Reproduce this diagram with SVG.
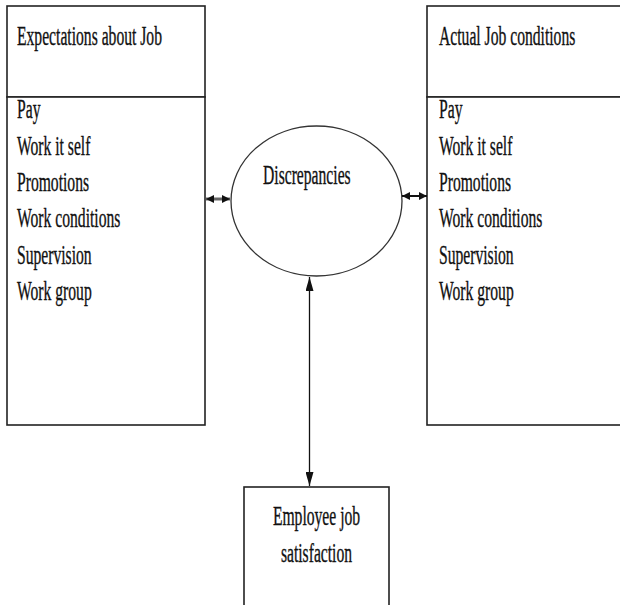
<svg xmlns="http://www.w3.org/2000/svg" width="620" height="605" viewBox="0 0 620 605">
<style>
.box{fill:#fff;stroke:#222;stroke-width:1.6}
.t{font-family:"Liberation Serif","Times New Roman",serif;font-size:26.5px;fill:#111;stroke:#111;stroke-width:0.35}
.c{stroke:#111;stroke-width:1.3;fill:none}
</style>
<defs>
<marker id="ah" viewBox="0 0 10 10" refX="10" refY="5" markerWidth="8" markerHeight="11" markerUnits="userSpaceOnUse" orient="auto-start-reverse"><path d="M0,0 L10,5 L0,10 z" fill="#111"/></marker>
<marker id="av" viewBox="0 0 14 8" refX="14" refY="4" markerWidth="14" markerHeight="8" markerUnits="userSpaceOnUse" orient="auto-start-reverse"><path d="M0,0 L14,4 L0,8 z" fill="#111"/></marker>
</defs>
<rect width="620" height="605" fill="#fff"/>
<g id="expectations">
<rect class="box" x="7" y="6" width="198" height="91"/>
<rect class="box" x="7" y="97" width="198" height="328"/>
<text class="t" transform="translate(17,45) scale(0.59,1)">Expectations about Job</text>
<text class="t" transform="translate(17,118) scale(0.59,1)">Pay</text>
<text class="t" transform="translate(17,154.5) scale(0.59,1)">Work it self</text>
<text class="t" transform="translate(17,191) scale(0.59,1)">Promotions</text>
<text class="t" transform="translate(17,227) scale(0.59,1)">Work conditions</text>
<text class="t" transform="translate(17,263.5) scale(0.59,1)">Supervision</text>
<text class="t" transform="translate(17,300) scale(0.59,1)">Work group</text>
</g>
<g id="actual">
<rect class="box" x="427" y="6" width="200" height="91"/>
<rect class="box" x="427" y="97" width="200" height="328"/>
<text class="t" transform="translate(439,45) scale(0.59,1)">Actual Job conditions</text>
<text class="t" transform="translate(439,118) scale(0.59,1)">Pay</text>
<text class="t" transform="translate(439,154.5) scale(0.59,1)">Work it self</text>
<text class="t" transform="translate(439,191) scale(0.59,1)">Promotions</text>
<text class="t" transform="translate(439,227) scale(0.59,1)">Work conditions</text>
<text class="t" transform="translate(439,263.5) scale(0.59,1)">Supervision</text>
<text class="t" transform="translate(439,300) scale(0.59,1)">Work group</text>
</g>
<g id="discrepancies">
<ellipse cx="316.5" cy="201" rx="85.5" ry="75" fill="#fff" stroke="#333" stroke-width="1.3"/>
<text class="t" transform="translate(263,184) scale(0.59,1)">Discrepancies</text>
</g>
<g id="satisfaction">
<rect class="box" x="244" y="487" width="145" height="130"/>
<text class="t" text-anchor="middle" transform="translate(316.5,525) scale(0.59,1)">Employee job</text>
<text class="t" text-anchor="middle" transform="translate(316.5,562) scale(0.59,1)">satisfaction</text>
</g>
<g id="connectors">
<line x1="206" y1="199" x2="230" y2="199" stroke="#666" stroke-width="3" marker-start="url(#ah)" marker-end="url(#ah)"/>
<line x1="402" y1="196" x2="427" y2="196" stroke="#111" stroke-width="2" marker-start="url(#ah)" marker-end="url(#ah)"/>
<line class="c" x1="309.5" y1="277" x2="309.5" y2="486" marker-start="url(#av)" marker-end="url(#av)"/>
</g>
</svg>
